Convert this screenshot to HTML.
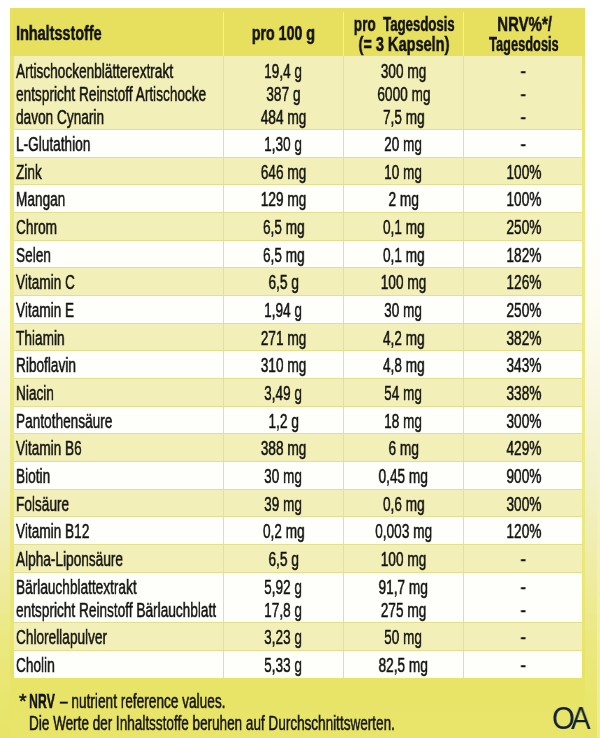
<!DOCTYPE html>
<html lang="de"><head><meta charset="utf-8"><title>Inhaltsstoffe</title>
<style>
html,body{margin:0;padding:0}
body{width:600px;height:738px;position:relative;overflow:hidden;
background:linear-gradient(to bottom,#ffffff 0px,#ffffff 200px,#fefdf4 300px,#f9f7e2 380px,#f3f1c8 480px,#eeeba0 580px,#ebe880 640px,#e9e66e 700px,#e8e468 738px);
font-family:"Liberation Sans",Arial,sans-serif;color:#121210}
.panel{position:absolute;left:10px;top:8px;width:575px;height:730px;background:linear-gradient(to bottom,#e6e05e 0px,#e6e05e 48px,#e8e468 670px,#e8e56a 730px)}
.c{position:absolute}
.t{position:absolute;white-space:nowrap;-webkit-text-stroke:0.5px currentColor}
.t span{display:inline-block;will-change:transform}
.vl{position:absolute;width:1px}
.lg{position:absolute;white-space:nowrap;font-family:'Liberation Sans',sans-serif}
.lg span{display:inline-block;will-change:transform}
</style></head><body>
<div class="panel"></div>
<div style="position:absolute;left:597px;top:0;width:3px;height:738px;background:linear-gradient(to bottom,rgba(255,255,255,0) 420px,rgba(255,255,235,0.3) 620px,rgba(255,255,235,0.3) 738px)"></div>

<div class="c" style="left:10px;top:56px;width:4px;height:622px;background:linear-gradient(to bottom,#e8e36c 0px,#ece882 150px,#ece882 450px,#e9e570 580px,#e6e262 622px)"></div>
<div class="c" style="left:582px;top:56px;width:3px;height:622px;background:linear-gradient(to bottom,#e8e36c 0px,#ece882 150px,#ece882 450px,#e9e570 580px,#e6e262 622px)"></div>
<div class="vl" style="left:223px;top:12px;height:44px;background:#f6f28a"></div>
<div class="vl" style="left:343px;top:12px;height:44px;background:#f6f28a"></div>
<div class="vl" style="left:463px;top:12px;height:44px;background:#f6f28a"></div>
<div class="c" style="left:14px;top:56px;width:568px;height:73px;background:#dfe0a8"></div>
<div class="c" style="left:14px;top:129px;width:568px;height:1px;background:#e2e08e"></div>
<div class="c" style="left:14px;top:56px;width:209px;height:73px;background:#f3efb8"></div>
<div class="c" style="left:224px;top:56px;width:119px;height:73px;background:#f3efb8"></div>
<div class="c" style="left:344px;top:56px;width:119px;height:73px;background:#f3efb8"></div>
<div class="c" style="left:464px;top:56px;width:118px;height:73px;background:#f3efb8"></div>
<div class="c" style="left:14px;top:130px;width:568px;height:27px;background:#dfe0a8"></div>
<div class="c" style="left:14px;top:157px;width:568px;height:1px;background:#e2e08e"></div>
<div class="c" style="left:14px;top:130px;width:209px;height:27px;background:#fefefb"></div>
<div class="c" style="left:224px;top:130px;width:119px;height:27px;background:#fefefb"></div>
<div class="c" style="left:344px;top:130px;width:119px;height:27px;background:#fefefb"></div>
<div class="c" style="left:464px;top:130px;width:118px;height:27px;background:#fefefb"></div>
<div class="c" style="left:14px;top:158px;width:568px;height:26px;background:#dfe0a8"></div>
<div class="c" style="left:14px;top:184px;width:568px;height:1px;background:#e2e08e"></div>
<div class="c" style="left:14px;top:158px;width:209px;height:26px;background:#f3efb8"></div>
<div class="c" style="left:224px;top:158px;width:119px;height:26px;background:#f3efb8"></div>
<div class="c" style="left:344px;top:158px;width:119px;height:26px;background:#f3efb8"></div>
<div class="c" style="left:464px;top:158px;width:118px;height:26px;background:#f3efb8"></div>
<div class="c" style="left:14px;top:185px;width:568px;height:27px;background:#dfe0a8"></div>
<div class="c" style="left:14px;top:212px;width:568px;height:1px;background:#e2e08e"></div>
<div class="c" style="left:14px;top:185px;width:209px;height:27px;background:#fefefb"></div>
<div class="c" style="left:224px;top:185px;width:119px;height:27px;background:#fefefb"></div>
<div class="c" style="left:344px;top:185px;width:119px;height:27px;background:#fefefb"></div>
<div class="c" style="left:464px;top:185px;width:118px;height:27px;background:#fefefb"></div>
<div class="c" style="left:14px;top:213px;width:568px;height:27px;background:#dfe0a8"></div>
<div class="c" style="left:14px;top:240px;width:568px;height:1px;background:#e2e08e"></div>
<div class="c" style="left:14px;top:213px;width:209px;height:27px;background:#f3efb8"></div>
<div class="c" style="left:224px;top:213px;width:119px;height:27px;background:#f3efb8"></div>
<div class="c" style="left:344px;top:213px;width:119px;height:27px;background:#f3efb8"></div>
<div class="c" style="left:464px;top:213px;width:118px;height:27px;background:#f3efb8"></div>
<div class="c" style="left:14px;top:241px;width:568px;height:26px;background:#dfe0a8"></div>
<div class="c" style="left:14px;top:267px;width:568px;height:1px;background:#e2e08e"></div>
<div class="c" style="left:14px;top:241px;width:209px;height:26px;background:#fefefb"></div>
<div class="c" style="left:224px;top:241px;width:119px;height:26px;background:#fefefb"></div>
<div class="c" style="left:344px;top:241px;width:119px;height:26px;background:#fefefb"></div>
<div class="c" style="left:464px;top:241px;width:118px;height:26px;background:#fefefb"></div>
<div class="c" style="left:14px;top:268px;width:568px;height:27px;background:#dfe0a8"></div>
<div class="c" style="left:14px;top:295px;width:568px;height:1px;background:#e2e08e"></div>
<div class="c" style="left:14px;top:268px;width:209px;height:27px;background:#f3efb8"></div>
<div class="c" style="left:224px;top:268px;width:119px;height:27px;background:#f3efb8"></div>
<div class="c" style="left:344px;top:268px;width:119px;height:27px;background:#f3efb8"></div>
<div class="c" style="left:464px;top:268px;width:118px;height:27px;background:#f3efb8"></div>
<div class="c" style="left:14px;top:296px;width:568px;height:27px;background:#dfe0a8"></div>
<div class="c" style="left:14px;top:323px;width:568px;height:1px;background:#e2e08e"></div>
<div class="c" style="left:14px;top:296px;width:209px;height:27px;background:#fefefb"></div>
<div class="c" style="left:224px;top:296px;width:119px;height:27px;background:#fefefb"></div>
<div class="c" style="left:344px;top:296px;width:119px;height:27px;background:#fefefb"></div>
<div class="c" style="left:464px;top:296px;width:118px;height:27px;background:#fefefb"></div>
<div class="c" style="left:14px;top:324px;width:568px;height:26px;background:#dfe0a8"></div>
<div class="c" style="left:14px;top:350px;width:568px;height:1px;background:#e2e08e"></div>
<div class="c" style="left:14px;top:324px;width:209px;height:26px;background:#f3efb8"></div>
<div class="c" style="left:224px;top:324px;width:119px;height:26px;background:#f3efb8"></div>
<div class="c" style="left:344px;top:324px;width:119px;height:26px;background:#f3efb8"></div>
<div class="c" style="left:464px;top:324px;width:118px;height:26px;background:#f3efb8"></div>
<div class="c" style="left:14px;top:351px;width:568px;height:27px;background:#dfe0a8"></div>
<div class="c" style="left:14px;top:378px;width:568px;height:1px;background:#e2e08e"></div>
<div class="c" style="left:14px;top:351px;width:209px;height:27px;background:#fefefb"></div>
<div class="c" style="left:224px;top:351px;width:119px;height:27px;background:#fefefb"></div>
<div class="c" style="left:344px;top:351px;width:119px;height:27px;background:#fefefb"></div>
<div class="c" style="left:464px;top:351px;width:118px;height:27px;background:#fefefb"></div>
<div class="c" style="left:14px;top:379px;width:568px;height:27px;background:#dfe0a8"></div>
<div class="c" style="left:14px;top:406px;width:568px;height:1px;background:#e2e08e"></div>
<div class="c" style="left:14px;top:379px;width:209px;height:27px;background:#f3efb8"></div>
<div class="c" style="left:224px;top:379px;width:119px;height:27px;background:#f3efb8"></div>
<div class="c" style="left:344px;top:379px;width:119px;height:27px;background:#f3efb8"></div>
<div class="c" style="left:464px;top:379px;width:118px;height:27px;background:#f3efb8"></div>
<div class="c" style="left:14px;top:407px;width:568px;height:26px;background:#dfe0a8"></div>
<div class="c" style="left:14px;top:433px;width:568px;height:1px;background:#e2e08e"></div>
<div class="c" style="left:14px;top:407px;width:209px;height:26px;background:#fefefb"></div>
<div class="c" style="left:224px;top:407px;width:119px;height:26px;background:#fefefb"></div>
<div class="c" style="left:344px;top:407px;width:119px;height:26px;background:#fefefb"></div>
<div class="c" style="left:464px;top:407px;width:118px;height:26px;background:#fefefb"></div>
<div class="c" style="left:14px;top:434px;width:568px;height:27px;background:#dfe0a8"></div>
<div class="c" style="left:14px;top:461px;width:568px;height:1px;background:#e2e08e"></div>
<div class="c" style="left:14px;top:434px;width:209px;height:27px;background:#f3efb8"></div>
<div class="c" style="left:224px;top:434px;width:119px;height:27px;background:#f3efb8"></div>
<div class="c" style="left:344px;top:434px;width:119px;height:27px;background:#f3efb8"></div>
<div class="c" style="left:464px;top:434px;width:118px;height:27px;background:#f3efb8"></div>
<div class="c" style="left:14px;top:462px;width:568px;height:27px;background:#dfe0a8"></div>
<div class="c" style="left:14px;top:489px;width:568px;height:1px;background:#e2e08e"></div>
<div class="c" style="left:14px;top:462px;width:209px;height:27px;background:#fefefb"></div>
<div class="c" style="left:224px;top:462px;width:119px;height:27px;background:#fefefb"></div>
<div class="c" style="left:344px;top:462px;width:119px;height:27px;background:#fefefb"></div>
<div class="c" style="left:464px;top:462px;width:118px;height:27px;background:#fefefb"></div>
<div class="c" style="left:14px;top:490px;width:568px;height:26px;background:#dfe0a8"></div>
<div class="c" style="left:14px;top:516px;width:568px;height:1px;background:#e2e08e"></div>
<div class="c" style="left:14px;top:490px;width:209px;height:26px;background:#f3efb8"></div>
<div class="c" style="left:224px;top:490px;width:119px;height:26px;background:#f3efb8"></div>
<div class="c" style="left:344px;top:490px;width:119px;height:26px;background:#f3efb8"></div>
<div class="c" style="left:464px;top:490px;width:118px;height:26px;background:#f3efb8"></div>
<div class="c" style="left:14px;top:517px;width:568px;height:27px;background:#dfe0a8"></div>
<div class="c" style="left:14px;top:544px;width:568px;height:1px;background:#e2e08e"></div>
<div class="c" style="left:14px;top:517px;width:209px;height:27px;background:#fefefb"></div>
<div class="c" style="left:224px;top:517px;width:119px;height:27px;background:#fefefb"></div>
<div class="c" style="left:344px;top:517px;width:119px;height:27px;background:#fefefb"></div>
<div class="c" style="left:464px;top:517px;width:118px;height:27px;background:#fefefb"></div>
<div class="c" style="left:14px;top:545px;width:568px;height:27px;background:#dfe0a8"></div>
<div class="c" style="left:14px;top:572px;width:568px;height:1px;background:#e2e08e"></div>
<div class="c" style="left:14px;top:545px;width:209px;height:27px;background:#f3efb8"></div>
<div class="c" style="left:224px;top:545px;width:119px;height:27px;background:#f3efb8"></div>
<div class="c" style="left:344px;top:545px;width:119px;height:27px;background:#f3efb8"></div>
<div class="c" style="left:464px;top:545px;width:118px;height:27px;background:#f3efb8"></div>
<div class="c" style="left:14px;top:573px;width:568px;height:49px;background:#dfe0a8"></div>
<div class="c" style="left:14px;top:622px;width:568px;height:1px;background:#e2e08e"></div>
<div class="c" style="left:14px;top:573px;width:209px;height:49px;background:#fefefb"></div>
<div class="c" style="left:224px;top:573px;width:119px;height:49px;background:#fefefb"></div>
<div class="c" style="left:344px;top:573px;width:119px;height:49px;background:#fefefb"></div>
<div class="c" style="left:464px;top:573px;width:118px;height:49px;background:#fefefb"></div>
<div class="c" style="left:14px;top:623px;width:568px;height:27px;background:#dfe0a8"></div>
<div class="c" style="left:14px;top:650px;width:568px;height:1px;background:#e2e08e"></div>
<div class="c" style="left:14px;top:623px;width:209px;height:27px;background:#f3efb8"></div>
<div class="c" style="left:224px;top:623px;width:119px;height:27px;background:#f3efb8"></div>
<div class="c" style="left:344px;top:623px;width:119px;height:27px;background:#f3efb8"></div>
<div class="c" style="left:464px;top:623px;width:118px;height:27px;background:#f3efb8"></div>
<div class="c" style="left:14px;top:651px;width:568px;height:27px;background:#dfe0a8"></div>
<div class="c" style="left:14px;top:651px;width:209px;height:27px;background:#fefefb"></div>
<div class="c" style="left:224px;top:651px;width:119px;height:27px;background:#fefefb"></div>
<div class="c" style="left:344px;top:651px;width:119px;height:27px;background:#fefefb"></div>
<div class="c" style="left:464px;top:651px;width:118px;height:27px;background:#fefefb"></div>
<div class="t" style="left:16.00px;top:22.34px;width:200.00px;text-align:left;line-height:23px;font-size:19.5px;font-weight:bold;"><span style="transform:scaleX(0.739);transform-origin:left">Inhaltsstoffe</span></div>
<div class="t" style="left:83.00px;top:22.34px;width:400.00px;text-align:center;line-height:23px;font-size:19.5px;font-weight:bold;"><span style="transform:scaleX(0.729);transform-origin:center">pro 100 g</span></div>
<div class="t" style="left:164.50px;top:12.64px;width:400.00px;text-align:center;line-height:23px;font-size:19.5px;font-weight:bold;"><span style="transform:scaleX(0.7);transform-origin:center">pro</span></div>
<div class="t" style="left:218.50px;top:12.64px;width:400.00px;text-align:center;line-height:23px;font-size:19.5px;font-weight:bold;"><span style="transform:scaleX(0.676);transform-origin:center">Tagesdosis</span></div>
<div class="t" style="left:203.70px;top:32.64px;width:400.00px;text-align:center;line-height:23px;font-size:19.5px;font-weight:bold;"><span style="transform:scaleX(0.745);transform-origin:center">(= 3 Kapseln)</span></div>
<div class="t" style="left:324.20px;top:12.64px;width:400.00px;text-align:center;line-height:23px;font-size:19.5px;font-weight:bold;"><span style="transform:scaleX(0.766);transform-origin:center">NRV%*/</span></div>
<div class="t" style="left:323.50px;top:32.64px;width:400.00px;text-align:center;line-height:23px;font-size:19.5px;font-weight:bold;"><span style="transform:scaleX(0.657);transform-origin:center">Tagesdosis</span></div>
<div class="t" style="left:15.90px;top:59.64px;width:205.00px;text-align:left;line-height:23px;font-size:19.5px;"><span style="transform:scaleX(0.7);transform-origin:left">Artischockenblätterextrakt</span></div>
<div class="t" style="left:83.50px;top:59.64px;width:400.00px;text-align:center;line-height:23px;font-size:19.5px;"><span style="transform:scaleX(0.7);transform-origin:center">19,4 g</span></div>
<div class="t" style="left:203.50px;top:59.64px;width:400.00px;text-align:center;line-height:23px;font-size:19.5px;"><span style="transform:scaleX(0.7);transform-origin:center">300 mg</span></div>
<div class="t" style="left:323.50px;top:59.64px;width:400.00px;text-align:center;line-height:23px;font-size:19.5px;"><span style="transform:scaleX(0.85);transform-origin:center">-</span></div>
<div class="t" style="left:15.90px;top:82.64px;width:205.00px;text-align:left;line-height:23px;font-size:19.5px;"><span style="transform:scaleX(0.7);transform-origin:left">entspricht Reinstoff Artischocke</span></div>
<div class="t" style="left:83.50px;top:82.64px;width:400.00px;text-align:center;line-height:23px;font-size:19.5px;"><span style="transform:scaleX(0.7);transform-origin:center">387 g</span></div>
<div class="t" style="left:203.50px;top:82.64px;width:400.00px;text-align:center;line-height:23px;font-size:19.5px;"><span style="transform:scaleX(0.7);transform-origin:center">6000 mg</span></div>
<div class="t" style="left:323.50px;top:82.64px;width:400.00px;text-align:center;line-height:23px;font-size:19.5px;"><span style="transform:scaleX(0.85);transform-origin:center">-</span></div>
<div class="t" style="left:15.90px;top:105.64px;width:205.00px;text-align:left;line-height:23px;font-size:19.5px;"><span style="transform:scaleX(0.7);transform-origin:left">davon Cynarin</span></div>
<div class="t" style="left:83.50px;top:105.64px;width:400.00px;text-align:center;line-height:23px;font-size:19.5px;"><span style="transform:scaleX(0.7);transform-origin:center">484 mg</span></div>
<div class="t" style="left:203.50px;top:105.64px;width:400.00px;text-align:center;line-height:23px;font-size:19.5px;"><span style="transform:scaleX(0.7);transform-origin:center">7,5 mg</span></div>
<div class="t" style="left:323.50px;top:105.64px;width:400.00px;text-align:center;line-height:23px;font-size:19.5px;"><span style="transform:scaleX(0.85);transform-origin:center">-</span></div>
<div class="t" style="left:15.90px;top:133.04px;width:205.00px;text-align:left;line-height:23px;font-size:19.5px;"><span style="transform:scaleX(0.7);transform-origin:left">L-Glutathion</span></div>
<div class="t" style="left:83.50px;top:133.04px;width:400.00px;text-align:center;line-height:23px;font-size:19.5px;"><span style="transform:scaleX(0.7);transform-origin:center">1,30 g</span></div>
<div class="t" style="left:203.50px;top:133.04px;width:400.00px;text-align:center;line-height:23px;font-size:19.5px;"><span style="transform:scaleX(0.7);transform-origin:center">20 mg</span></div>
<div class="t" style="left:323.50px;top:133.04px;width:400.00px;text-align:center;line-height:23px;font-size:19.5px;"><span style="transform:scaleX(0.85);transform-origin:center">-</span></div>
<div class="t" style="left:15.90px;top:160.71px;width:205.00px;text-align:left;line-height:23px;font-size:19.5px;"><span style="transform:scaleX(0.7);transform-origin:left">Zink</span></div>
<div class="t" style="left:83.50px;top:160.71px;width:400.00px;text-align:center;line-height:23px;font-size:19.5px;"><span style="transform:scaleX(0.7);transform-origin:center">646 mg</span></div>
<div class="t" style="left:203.50px;top:160.71px;width:400.00px;text-align:center;line-height:23px;font-size:19.5px;"><span style="transform:scaleX(0.7);transform-origin:center">10 mg</span></div>
<div class="t" style="left:323.50px;top:160.71px;width:400.00px;text-align:center;line-height:23px;font-size:19.5px;"><span style="transform:scaleX(0.7);transform-origin:center">100%</span></div>
<div class="t" style="left:15.90px;top:188.38px;width:205.00px;text-align:left;line-height:23px;font-size:19.5px;"><span style="transform:scaleX(0.7);transform-origin:left">Mangan</span></div>
<div class="t" style="left:83.50px;top:188.38px;width:400.00px;text-align:center;line-height:23px;font-size:19.5px;"><span style="transform:scaleX(0.7);transform-origin:center">129 mg</span></div>
<div class="t" style="left:203.50px;top:188.38px;width:400.00px;text-align:center;line-height:23px;font-size:19.5px;"><span style="transform:scaleX(0.7);transform-origin:center">2 mg</span></div>
<div class="t" style="left:323.50px;top:188.38px;width:400.00px;text-align:center;line-height:23px;font-size:19.5px;"><span style="transform:scaleX(0.7);transform-origin:center">100%</span></div>
<div class="t" style="left:15.90px;top:216.05px;width:205.00px;text-align:left;line-height:23px;font-size:19.5px;"><span style="transform:scaleX(0.7);transform-origin:left">Chrom</span></div>
<div class="t" style="left:83.50px;top:216.05px;width:400.00px;text-align:center;line-height:23px;font-size:19.5px;"><span style="transform:scaleX(0.7);transform-origin:center">6,5 mg</span></div>
<div class="t" style="left:203.50px;top:216.05px;width:400.00px;text-align:center;line-height:23px;font-size:19.5px;"><span style="transform:scaleX(0.7);transform-origin:center">0,1 mg</span></div>
<div class="t" style="left:323.50px;top:216.05px;width:400.00px;text-align:center;line-height:23px;font-size:19.5px;"><span style="transform:scaleX(0.7);transform-origin:center">250%</span></div>
<div class="t" style="left:15.90px;top:243.72px;width:205.00px;text-align:left;line-height:23px;font-size:19.5px;"><span style="transform:scaleX(0.7);transform-origin:left">Selen</span></div>
<div class="t" style="left:83.50px;top:243.72px;width:400.00px;text-align:center;line-height:23px;font-size:19.5px;"><span style="transform:scaleX(0.7);transform-origin:center">6,5 mg</span></div>
<div class="t" style="left:203.50px;top:243.72px;width:400.00px;text-align:center;line-height:23px;font-size:19.5px;"><span style="transform:scaleX(0.7);transform-origin:center">0,1 mg</span></div>
<div class="t" style="left:323.50px;top:243.72px;width:400.00px;text-align:center;line-height:23px;font-size:19.5px;"><span style="transform:scaleX(0.7);transform-origin:center">182%</span></div>
<div class="t" style="left:15.90px;top:271.39px;width:205.00px;text-align:left;line-height:23px;font-size:19.5px;"><span style="transform:scaleX(0.7);transform-origin:left">Vitamin C</span></div>
<div class="t" style="left:83.50px;top:271.39px;width:400.00px;text-align:center;line-height:23px;font-size:19.5px;"><span style="transform:scaleX(0.7);transform-origin:center">6,5 g</span></div>
<div class="t" style="left:203.50px;top:271.39px;width:400.00px;text-align:center;line-height:23px;font-size:19.5px;"><span style="transform:scaleX(0.7);transform-origin:center">100 mg</span></div>
<div class="t" style="left:323.50px;top:271.39px;width:400.00px;text-align:center;line-height:23px;font-size:19.5px;"><span style="transform:scaleX(0.7);transform-origin:center">126%</span></div>
<div class="t" style="left:15.90px;top:299.06px;width:205.00px;text-align:left;line-height:23px;font-size:19.5px;"><span style="transform:scaleX(0.7);transform-origin:left">Vitamin E</span></div>
<div class="t" style="left:83.50px;top:299.06px;width:400.00px;text-align:center;line-height:23px;font-size:19.5px;"><span style="transform:scaleX(0.7);transform-origin:center">1,94 g</span></div>
<div class="t" style="left:203.50px;top:299.06px;width:400.00px;text-align:center;line-height:23px;font-size:19.5px;"><span style="transform:scaleX(0.7);transform-origin:center">30 mg</span></div>
<div class="t" style="left:323.50px;top:299.06px;width:400.00px;text-align:center;line-height:23px;font-size:19.5px;"><span style="transform:scaleX(0.7);transform-origin:center">250%</span></div>
<div class="t" style="left:15.90px;top:326.73px;width:205.00px;text-align:left;line-height:23px;font-size:19.5px;"><span style="transform:scaleX(0.7);transform-origin:left">Thiamin</span></div>
<div class="t" style="left:83.50px;top:326.73px;width:400.00px;text-align:center;line-height:23px;font-size:19.5px;"><span style="transform:scaleX(0.7);transform-origin:center">271 mg</span></div>
<div class="t" style="left:203.50px;top:326.73px;width:400.00px;text-align:center;line-height:23px;font-size:19.5px;"><span style="transform:scaleX(0.7);transform-origin:center">4,2 mg</span></div>
<div class="t" style="left:323.50px;top:326.73px;width:400.00px;text-align:center;line-height:23px;font-size:19.5px;"><span style="transform:scaleX(0.7);transform-origin:center">382%</span></div>
<div class="t" style="left:15.90px;top:354.40px;width:205.00px;text-align:left;line-height:23px;font-size:19.5px;"><span style="transform:scaleX(0.7);transform-origin:left">Riboflavin</span></div>
<div class="t" style="left:83.50px;top:354.40px;width:400.00px;text-align:center;line-height:23px;font-size:19.5px;"><span style="transform:scaleX(0.7);transform-origin:center">310 mg</span></div>
<div class="t" style="left:203.50px;top:354.40px;width:400.00px;text-align:center;line-height:23px;font-size:19.5px;"><span style="transform:scaleX(0.7);transform-origin:center">4,8 mg</span></div>
<div class="t" style="left:323.50px;top:354.40px;width:400.00px;text-align:center;line-height:23px;font-size:19.5px;"><span style="transform:scaleX(0.7);transform-origin:center">343%</span></div>
<div class="t" style="left:15.90px;top:382.07px;width:205.00px;text-align:left;line-height:23px;font-size:19.5px;"><span style="transform:scaleX(0.7);transform-origin:left">Niacin</span></div>
<div class="t" style="left:83.50px;top:382.07px;width:400.00px;text-align:center;line-height:23px;font-size:19.5px;"><span style="transform:scaleX(0.7);transform-origin:center">3,49 g</span></div>
<div class="t" style="left:203.50px;top:382.07px;width:400.00px;text-align:center;line-height:23px;font-size:19.5px;"><span style="transform:scaleX(0.7);transform-origin:center">54 mg</span></div>
<div class="t" style="left:323.50px;top:382.07px;width:400.00px;text-align:center;line-height:23px;font-size:19.5px;"><span style="transform:scaleX(0.7);transform-origin:center">338%</span></div>
<div class="t" style="left:15.90px;top:409.74px;width:205.00px;text-align:left;line-height:23px;font-size:19.5px;"><span style="transform:scaleX(0.7);transform-origin:left">Pantothensäure</span></div>
<div class="t" style="left:83.50px;top:409.74px;width:400.00px;text-align:center;line-height:23px;font-size:19.5px;"><span style="transform:scaleX(0.7);transform-origin:center">1,2 g</span></div>
<div class="t" style="left:203.50px;top:409.74px;width:400.00px;text-align:center;line-height:23px;font-size:19.5px;"><span style="transform:scaleX(0.7);transform-origin:center">18 mg</span></div>
<div class="t" style="left:323.50px;top:409.74px;width:400.00px;text-align:center;line-height:23px;font-size:19.5px;"><span style="transform:scaleX(0.7);transform-origin:center">300%</span></div>
<div class="t" style="left:15.90px;top:437.41px;width:205.00px;text-align:left;line-height:23px;font-size:19.5px;"><span style="transform:scaleX(0.7);transform-origin:left">Vitamin B6</span></div>
<div class="t" style="left:83.50px;top:437.41px;width:400.00px;text-align:center;line-height:23px;font-size:19.5px;"><span style="transform:scaleX(0.7);transform-origin:center">388 mg</span></div>
<div class="t" style="left:203.50px;top:437.41px;width:400.00px;text-align:center;line-height:23px;font-size:19.5px;"><span style="transform:scaleX(0.7);transform-origin:center">6 mg</span></div>
<div class="t" style="left:323.50px;top:437.41px;width:400.00px;text-align:center;line-height:23px;font-size:19.5px;"><span style="transform:scaleX(0.7);transform-origin:center">429%</span></div>
<div class="t" style="left:15.90px;top:465.08px;width:205.00px;text-align:left;line-height:23px;font-size:19.5px;"><span style="transform:scaleX(0.7);transform-origin:left">Biotin</span></div>
<div class="t" style="left:83.50px;top:465.08px;width:400.00px;text-align:center;line-height:23px;font-size:19.5px;"><span style="transform:scaleX(0.7);transform-origin:center">30 mg</span></div>
<div class="t" style="left:203.50px;top:465.08px;width:400.00px;text-align:center;line-height:23px;font-size:19.5px;"><span style="transform:scaleX(0.7);transform-origin:center">0,45 mg</span></div>
<div class="t" style="left:323.50px;top:465.08px;width:400.00px;text-align:center;line-height:23px;font-size:19.5px;"><span style="transform:scaleX(0.7);transform-origin:center">900%</span></div>
<div class="t" style="left:15.90px;top:492.75px;width:205.00px;text-align:left;line-height:23px;font-size:19.5px;"><span style="transform:scaleX(0.7);transform-origin:left">Folsäure</span></div>
<div class="t" style="left:83.50px;top:492.75px;width:400.00px;text-align:center;line-height:23px;font-size:19.5px;"><span style="transform:scaleX(0.7);transform-origin:center">39 mg</span></div>
<div class="t" style="left:203.50px;top:492.75px;width:400.00px;text-align:center;line-height:23px;font-size:19.5px;"><span style="transform:scaleX(0.7);transform-origin:center">0,6 mg</span></div>
<div class="t" style="left:323.50px;top:492.75px;width:400.00px;text-align:center;line-height:23px;font-size:19.5px;"><span style="transform:scaleX(0.7);transform-origin:center">300%</span></div>
<div class="t" style="left:15.90px;top:520.42px;width:205.00px;text-align:left;line-height:23px;font-size:19.5px;"><span style="transform:scaleX(0.7);transform-origin:left">Vitamin B12</span></div>
<div class="t" style="left:83.50px;top:520.42px;width:400.00px;text-align:center;line-height:23px;font-size:19.5px;"><span style="transform:scaleX(0.7);transform-origin:center">0,2 mg</span></div>
<div class="t" style="left:203.50px;top:520.42px;width:400.00px;text-align:center;line-height:23px;font-size:19.5px;"><span style="transform:scaleX(0.7);transform-origin:center">0,003 mg</span></div>
<div class="t" style="left:323.50px;top:520.42px;width:400.00px;text-align:center;line-height:23px;font-size:19.5px;"><span style="transform:scaleX(0.7);transform-origin:center">120%</span></div>
<div class="t" style="left:15.90px;top:548.09px;width:205.00px;text-align:left;line-height:23px;font-size:19.5px;"><span style="transform:scaleX(0.7);transform-origin:left">Alpha-Liponsäure</span></div>
<div class="t" style="left:83.50px;top:548.09px;width:400.00px;text-align:center;line-height:23px;font-size:19.5px;"><span style="transform:scaleX(0.7);transform-origin:center">6,5 g</span></div>
<div class="t" style="left:203.50px;top:548.09px;width:400.00px;text-align:center;line-height:23px;font-size:19.5px;"><span style="transform:scaleX(0.7);transform-origin:center">100 mg</span></div>
<div class="t" style="left:323.50px;top:548.09px;width:400.00px;text-align:center;line-height:23px;font-size:19.5px;"><span style="transform:scaleX(0.85);transform-origin:center">-</span></div>
<div class="t" style="left:15.90px;top:575.76px;width:205.00px;text-align:left;line-height:23px;font-size:19.5px;"><span style="transform:scaleX(0.7);transform-origin:left">Bärlauchblattextrakt</span></div>
<div class="t" style="left:83.50px;top:575.76px;width:400.00px;text-align:center;line-height:23px;font-size:19.5px;"><span style="transform:scaleX(0.7);transform-origin:center">5,92 g</span></div>
<div class="t" style="left:203.50px;top:575.76px;width:400.00px;text-align:center;line-height:23px;font-size:19.5px;"><span style="transform:scaleX(0.7);transform-origin:center">91,7 mg</span></div>
<div class="t" style="left:323.50px;top:575.76px;width:400.00px;text-align:center;line-height:23px;font-size:19.5px;"><span style="transform:scaleX(0.85);transform-origin:center">-</span></div>
<div class="t" style="left:15.90px;top:598.76px;width:205.00px;text-align:left;line-height:23px;font-size:19.5px;"><span style="transform:scaleX(0.7);transform-origin:left">entspricht Reinstoff Bärlauchblatt</span></div>
<div class="t" style="left:83.50px;top:598.76px;width:400.00px;text-align:center;line-height:23px;font-size:19.5px;"><span style="transform:scaleX(0.7);transform-origin:center">17,8 g</span></div>
<div class="t" style="left:203.50px;top:598.76px;width:400.00px;text-align:center;line-height:23px;font-size:19.5px;"><span style="transform:scaleX(0.7);transform-origin:center">275 mg</span></div>
<div class="t" style="left:323.50px;top:598.76px;width:400.00px;text-align:center;line-height:23px;font-size:19.5px;"><span style="transform:scaleX(0.85);transform-origin:center">-</span></div>
<div class="t" style="left:15.90px;top:626.43px;width:205.00px;text-align:left;line-height:23px;font-size:19.5px;"><span style="transform:scaleX(0.7);transform-origin:left">Chlorellapulver</span></div>
<div class="t" style="left:83.50px;top:626.43px;width:400.00px;text-align:center;line-height:23px;font-size:19.5px;"><span style="transform:scaleX(0.7);transform-origin:center">3,23 g</span></div>
<div class="t" style="left:203.50px;top:626.43px;width:400.00px;text-align:center;line-height:23px;font-size:19.5px;"><span style="transform:scaleX(0.7);transform-origin:center">50 mg</span></div>
<div class="t" style="left:323.50px;top:626.43px;width:400.00px;text-align:center;line-height:23px;font-size:19.5px;"><span style="transform:scaleX(0.85);transform-origin:center">-</span></div>
<div class="t" style="left:15.90px;top:654.10px;width:205.00px;text-align:left;line-height:23px;font-size:19.5px;"><span style="transform:scaleX(0.7);transform-origin:left">Cholin</span></div>
<div class="t" style="left:83.50px;top:654.10px;width:400.00px;text-align:center;line-height:23px;font-size:19.5px;"><span style="transform:scaleX(0.7);transform-origin:center">5,33 g</span></div>
<div class="t" style="left:203.50px;top:654.10px;width:400.00px;text-align:center;line-height:23px;font-size:19.5px;"><span style="transform:scaleX(0.7);transform-origin:center">82,5 mg</span></div>
<div class="t" style="left:323.50px;top:654.10px;width:400.00px;text-align:center;line-height:23px;font-size:19.5px;"><span style="transform:scaleX(0.85);transform-origin:center">-</span></div>
<div class="t" style="left:18.60px;top:690.04px;width:30.00px;text-align:left;line-height:23px;font-size:19.5px;"><span style="transform:scaleX(1.0);transform-origin:left">*</span></div>
<div class="t" style="left:29.00px;top:690.04px;width:60.00px;text-align:left;line-height:23px;font-size:19.5px;font-weight:bold;"><span style="transform:scaleX(0.635);transform-origin:left">NRV</span></div>
<div class="t" style="left:59.50px;top:690.04px;width:300.00px;text-align:left;line-height:23px;font-size:19.5px;"><span style="transform:scaleX(0.7);transform-origin:left">– nutrient reference values.</span></div>
<div class="t" style="left:28.60px;top:711.84px;width:400.00px;text-align:left;line-height:23px;font-size:19.5px;"><span style="transform:scaleX(0.694);transform-origin:left">Die Werte der Inhaltsstoffe beruhen auf Durchschnittswerten.</span></div>
<div class="lg" style="left:551.5px;top:698.7px;font-size:31px;line-height:40px;color:#0f2230"><span style="transform:scaleX(0.95);transform-origin:left">O</span></div>
<div class="lg" style="left:570.8px;top:698.7px;font-size:31px;line-height:40px;color:#0f2230"><span style="transform:scaleX(0.95);transform-origin:left">A</span></div>
</body></html>
